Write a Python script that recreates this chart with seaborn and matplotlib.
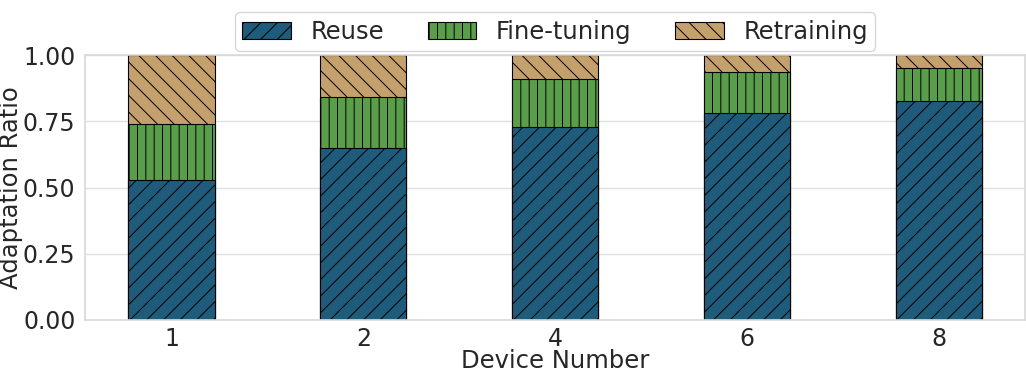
import matplotlib
matplotlib.use('Agg')
import matplotlib.pyplot as plt
import seaborn as sns
import pandas as pd

devices = ['1', '2', '4', '6', '8']
reuse = [0.528, 0.648, 0.728, 0.780, 0.826]
fine_tuning = [0.210, 0.192, 0.180, 0.155, 0.125]
retraining = [1 - r - f for r, f in zip(reuse, fine_tuning)]

colors = {'Reuse': '#1f5b7a', 'Fine-tuning': '#5a9e4b', 'Retraining': '#c4a06c'}
hatches = {'Reuse': '//', 'Fine-tuning': '||', 'Retraining': '\\\\'}

df = pd.DataFrame({'device': devices, 'Reuse': reuse,
                   'Fine-tuning': fine_tuning, 'Retraining': retraining})
# cumulative heights so bars can be drawn on top of each other
df['top_fine'] = df['Reuse'] + df['Fine-tuning']
df['top_all'] = df['top_fine'] + df['Retraining']

sns.set_theme(style='whitegrid', rc={'axes.edgecolor': '.85', 'grid.color': '.88'})
plt.rcParams['hatch.linewidth'] = 0.7

fig, ax = plt.subplots(figsize=(10.26, 3.75), dpi=100)

layers = [('Retraining', 'top_all'), ('Fine-tuning', 'top_fine'), ('Reuse', 'Reuse')]
for name, col in layers:
    sns.barplot(data=df, x='device', y=col, color=colors[name], width=0.45,
                edgecolor='black', linewidth=0.8, hatch=hatches[name], ax=ax,
                saturation=1, label=name)

ax.set_xlim(-0.45, 4.45)
ax.set_ylim(0, 1.0)
ax.set_yticks([0, 0.25, 0.5, 0.75, 1.0])
ax.set_yticklabels(['0.00', '0.25', '0.50', '0.75', '1.00'])
ax.tick_params(axis='both', labelsize=17, length=0)
ax.tick_params(axis='y', pad=7)
ax.tick_params(axis='x', pad=5)
ax.set_xlabel('Device Number', fontsize=17.5, labelpad=-1.5)
ax.set_ylabel('Adaptation Ratio', fontsize=17.5, labelpad=0)
ax.xaxis.grid(False)

handles, labels = ax.get_legend_handles_labels()
order = [labels.index(n) for n in ['Reuse', 'Fine-tuning', 'Retraining']]
ax.legend([handles[i] for i in order], [labels[i] for i in order],
          loc='lower center', bbox_to_anchor=(0.5, 0.97), ncol=3,
          fontsize=17.5, frameon=True, handlelength=2.0, columnspacing=1.8,
          borderpad=0.3)

plt.subplots_adjust(left=0.083, right=0.999, top=0.853, bottom=0.147)
plt.savefig('out.png', dpi=100)
